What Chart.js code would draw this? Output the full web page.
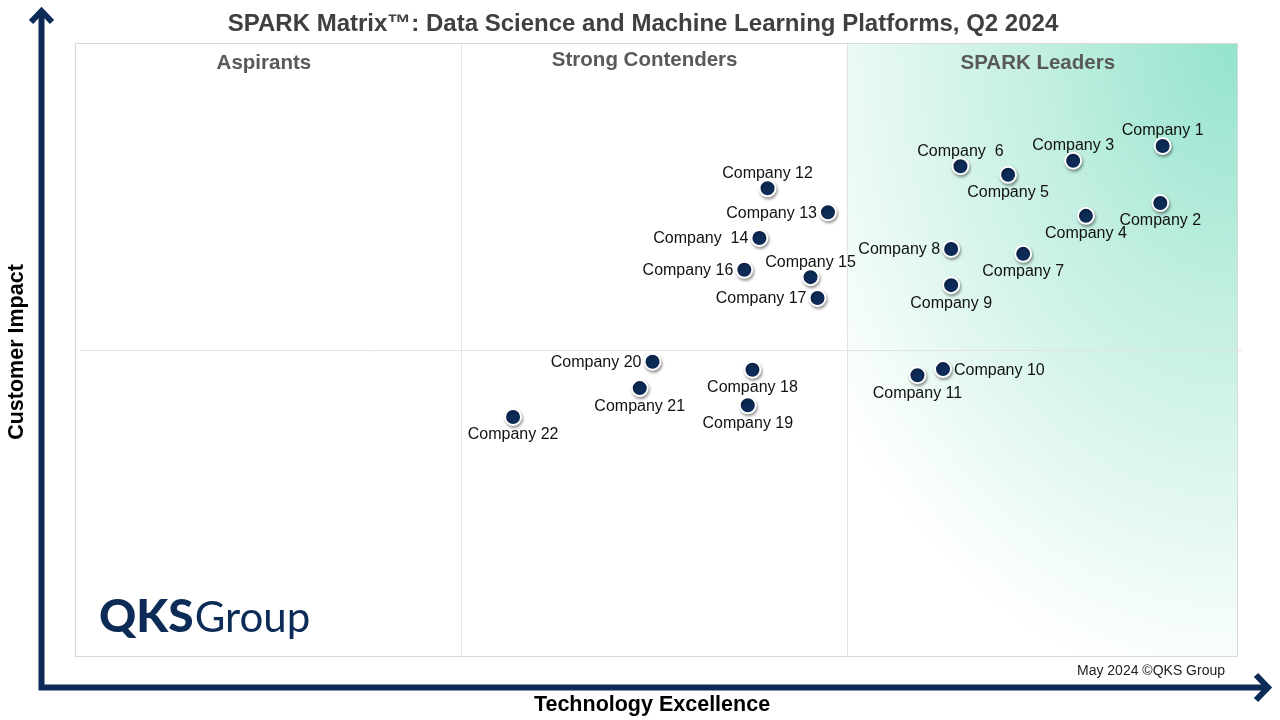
<!DOCTYPE html>
<html>
<head>
<meta charset="utf-8">
<title>SPARK Matrix</title>
<script src="https://cdn.jsdelivr.net/npm/chart.js@4.4.1/dist/chart.umd.min.js"></script>
<style>
  html, body { margin: 0; padding: 0; background: #ffffff; }
  #wrap { width: 1280px; height: 720px; }
</style>
</head>
<body>
<div id="wrap"><canvas id="matrix" width="1280" height="720"></canvas></div>
<script>
// Dữ liệu
const companies = ['Company 1', 'Company 2', 'Company 3', 'Company 4', 'Company 5', 'Company  6',
    'Company 7', 'Company 8', 'Company 9', 'Company 10', 'Company 11', 'Company 12', 'Company 13',
    'Company  14', 'Company 15', 'Company 16', 'Company 17', 'Company 18', 'Company 19',
    'Company 20', 'Company 21', 'Company 22'];
const techExcellence = [93.6, 93.4, 85.9, 87.0, 80.3, 76.2, 81.6, 75.4, 75.4, 74.7, 72.5,
    59.6, 64.8, 58.9, 63.3, 57.6, 63.9, 58.3, 57.9, 49.7, 48.6, 37.7];
const customerImpact = [83.2, 73.9, 80.8, 71.8, 78.5, 79.9, 65.6, 66.4, 60.5, 46.8, 45.8,
    76.3, 72.4, 68.2, 61.8, 63.0, 58.4, 46.7, 40.9, 48.0, 43.7, 39.0];
const labelSide = ['top', 'bottom', 'top', 'bottom', 'bottom', 'top', 'bottom', 'left', 'bottom',
    'right', 'bottom', 'top', 'left', 'left', 'top', 'left', 'left', 'bottom', 'bottom',
    'left', 'bottom', 'bottom'];
const xSplits = [33.2, 66.4];
const ySplits = [50];
const quadrants = ['Aspirants', 'Strong Contenders', 'SPARK Leaders'];

const NAVY = '#0d2b57';

// Nền, lưới và vùng Leaders
const backdrop = {
    id: 'backdrop',
    beforeDatasetsDraw(chart) {
        const c = chart.ctx;
        const a = chart.chartArea;
        const sx = chart.scales.x, sy = chart.scales.y;
        const x2 = sx.getPixelForValue(xSplits[1]);

        // gradient hình elip từ góc trên bên phải
        const k = 1.35;
        c.save();
        c.beginPath();
        c.rect(x2, a.top, a.right - x2, a.bottom - a.top);
        c.clip();
        c.translate(a.right, a.top);
        c.scale(1, k);
        const g = c.createRadialGradient(0, 0, 0, 0, 0, 520);
        g.addColorStop(0, '#93e3cd');
        g.addColorStop(0.35, '#bfeee0');
        g.addColorStop(0.72, '#e8f9f3');
        g.addColorStop(0.93, '#ffffff');
        g.addColorStop(1, '#ffffff');
        c.fillStyle = g;
        c.fillRect(-(a.right - x2), 0, a.right - x2, (a.bottom - a.top) / k);
        c.restore();

        c.save();
        c.strokeStyle = '#e2e2e2';
        c.lineWidth = 1;
        xSplits.forEach(v => {
            const px = Math.round(sx.getPixelForValue(v)) + 0.5;
            c.beginPath();
            c.moveTo(px, a.top);
            c.lineTo(px, a.bottom);
            c.stroke();
        });
        ySplits.forEach(v => {
            const py = Math.round(sy.getPixelForValue(v)) + 0.5;
            c.beginPath();
            c.moveTo(a.left + 5, py);
            c.lineTo(a.right + 5, py);
            c.stroke();
        });

        c.strokeStyle = '#d9d9d9';
        c.strokeRect(a.left + 0.5, a.top + 0.5, a.right - a.left, a.bottom - a.top);

        // tên các vùng
        c.fillStyle = '#595959';
        c.font = 'bold 20.5px "Liberation Sans", Arial, sans-serif';
        c.textAlign = 'center';
        c.textBaseline = 'middle';
        const edges = [0, xSplits[0], xSplits[1], 100];
        const shift = [-4, -9, -4];
        const ys = [63, 60, 63];
        quadrants.forEach((q, i) => {
            const cx = (sx.getPixelForValue(edges[i]) + sx.getPixelForValue(edges[i + 1])) / 2;
            c.fillText(q, cx + shift[i], ys[i]);
        });
        c.restore();
    }
};

// Bóng cho các điểm
const dotShadow = {
    id: 'dotShadow',
    beforeDatasetDraw(chart) {
        const c = chart.ctx;
        c.save();
        c.shadowColor = 'rgba(0,0,0,0.35)';
        c.shadowBlur = 3;
        c.shadowOffsetX = 1;
        c.shadowOffsetY = 2;
    },
    afterDatasetDraw(chart) {
        chart.ctx.restore();
    }
};

// Nhãn tên công ty
const pointLabels = {
    id: 'pointLabels',
    afterDatasetsDraw(chart) {
        const c = chart.ctx;
        const meta = chart.getDatasetMeta(0);
        c.save();
        c.fillStyle = '#111111';
        c.font = '16px "Liberation Sans", Arial, sans-serif';
        c.textBaseline = 'middle';
        meta.data.forEach((pt, i) => {
            const side = labelSide[i];
            let tx = pt.x, ty = pt.y;
            if (side === 'top') { c.textAlign = 'center'; ty -= 15; }
            if (side === 'bottom') { c.textAlign = 'center'; ty += 18; }
            if (side === 'left') { c.textAlign = 'right'; tx -= 11; ty += 1; }
            if (side === 'right') { c.textAlign = 'left'; tx += 11; ty += 1; }
            c.fillText(companies[i], tx, ty);
        });
        c.restore();
    }
};

// Tiêu đề, trục mũi tên, logo
const frame = {
    id: 'frame',
    afterDraw(chart) {
        const c = chart.ctx;
        c.save();

        c.fillStyle = '#404040';
        c.font = 'bold 24px "Liberation Sans", Arial, sans-serif';
        c.textAlign = 'center';
        c.textBaseline = 'middle';
        c.fillText('SPARK Matrix\u2122: Data Science and Machine Learning Platforms, Q2 2024', 643, 24);

        // mũi tên
        c.strokeStyle = NAVY;
        c.lineWidth = 6;
        c.lineCap = 'butt';
        c.lineJoin = 'miter';
        c.beginPath();
        c.moveTo(41.5, 690);
        c.lineTo(41.5, 12);
        c.moveTo(38.5, 687.5);
        c.lineTo(1266, 687.5);
        c.stroke();
        c.beginPath();
        c.moveTo(31, 22);
        c.lineTo(41.5, 11);
        c.lineTo(52, 22);
        c.moveTo(1256, 675);
        c.lineTo(1268, 687.5);
        c.lineTo(1256, 700);
        c.stroke();

        // tiêu đề trục
        c.fillStyle = '#000000';
        c.font = 'bold 21.5px "Liberation Sans", Arial, sans-serif';
        c.fillText('Technology Excellence', 652, 705);
        c.save();
        c.translate(17, 352);
        c.rotate(-Math.PI / 2);
        c.fillText('Customer Impact', 0, 0);
        c.restore();

        c.fillStyle = '#222222';
        c.font = '14px "Liberation Sans", Arial, sans-serif';
        c.fillText('May 2024 \u00A9QKS Group', 1151, 671);

        // logo
        c.fillStyle = NAVY;
        c.textAlign = 'left';
        c.textBaseline = 'alphabetic';
        c.font = '900 46px Lato, "Open Sans", sans-serif';
        c.fillText('QKS', 99, 632);
        const w = c.measureText('QKS').width;
        c.font = '400 42px Lato, "Open Sans", sans-serif';
        c.fillText('Group', 99 + w + 1, 632);

        c.restore();
    }
};

const ctx = document.getElementById('matrix').getContext('2d');

new Chart(ctx, {
    type: 'scatter',
    data: {
        datasets: [{
            label: 'Vendors',
            data: techExcellence.map((x, i) => ({ x: x, y: customerImpact[i] })),
            backgroundColor: NAVY,
            borderColor: '#ffffff',
            borderWidth: 2,
            pointRadius: 8,
            pointHoverRadius: 8
        }]
    },
    options: {
        responsive: false,
        animation: false,
        devicePixelRatio: 1,
        layout: {
            padding: { left: 75, right: 43, top: 43, bottom: 64 }
        },
        scales: {
            x: { type: 'linear', min: 0, max: 100, display: false },
            y: { type: 'linear', min: 0, max: 100, display: false }
        },
        plugins: {
            legend: { display: false },
            tooltip: { enabled: false }
        }
    },
    plugins: [backdrop, dotShadow, pointLabels, frame]
});
</script>
</body>
</html>
